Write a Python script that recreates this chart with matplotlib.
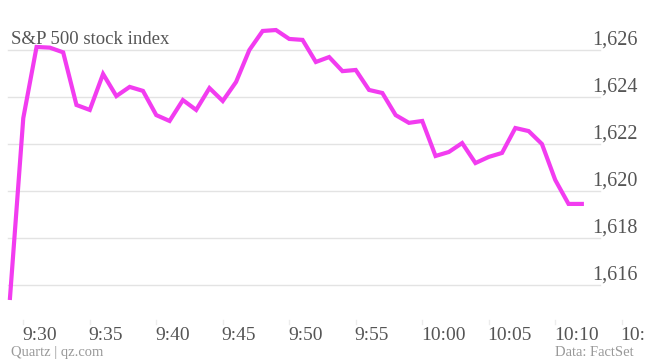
import numpy as np
import matplotlib.pyplot as plt

# minutes after 9:29, one point per minute
minutes = np.arange(44)
price = [1615.45, 1623.1, 1626.13, 1626.1, 1625.9, 1623.66, 1623.45, 1624.98,
         1624.04, 1624.43, 1624.26, 1623.23, 1622.98, 1623.87, 1623.45, 1624.38,
         1623.83, 1624.64, 1626.0, 1626.81, 1626.85, 1626.47, 1626.43, 1625.49,
         1625.7, 1625.1, 1625.15, 1624.3, 1624.17, 1623.23, 1622.9, 1622.98,
         1621.49, 1621.66, 1622.04, 1621.19, 1621.45, 1621.62, 1622.68, 1622.55,
         1622.0, 1620.47, 1619.45, 1619.45]

y_ticks = [1616, 1618, 1620, 1622, 1624, 1626]
x_ticks = [1, 6, 11, 16, 21, 26, 31, 36, 41, 46]
x_labels = ['9:30', '9:35', '9:40', '9:45', '9:50', '9:55', '10:00', '10:05', '10:10', '10:15']

font = 'Liberation Serif'
txt = '#555555'

fig = plt.figure(figsize=(6.45, 3.63), dpi=100)
ax = fig.add_axes([0.0, 0.0, 1.0, 1.0])
# axis limits chosen so that pixels line up with the reference
x0, x1 = -0.75, 47.75
ax.set_xlim(x0, x1)
ax.set_ylim(1626 - 313 / 23.5, 1626 + 50 / 23.5)

grid_end = (44.4 - x0) / (x1 - x0)
for v in y_ticks:
    ax.axhline(v, xmin=0.012, xmax=grid_end, color='#e3e3e3', lw=1, zorder=1)
    ax.text(0.988, v + 0.02, '{:,}'.format(v), transform=ax.get_yaxis_transform(),
            ha='right', va='bottom', fontsize=14.5, family=font, color=txt)

ax.plot(minutes, price, color='#f23cf0', lw=3, solid_joinstyle='miter', zorder=3)

# faint tick marks and left-aligned time labels
ybot = 1626 - 270 / 23.5
for xt, lab in zip(x_ticks, x_labels):
    ax.plot([xt, xt], [ybot, ybot - 0.15], color='#ececec', lw=1)
    ax.text(xt - 0.1, 1626 - 294 / 23.5, lab, ha='left', va='bottom',
            fontsize=14, family=font, color=txt)

ax.axis('off')

fig.text(0.017, 0.868, 'S&P 500 stock index', fontsize=13.5, family=font, color=txt,
         ha='left', va='bottom')
fig.text(0.017, 0.01, 'Quartz | qz.com', fontsize=10.5, family=font, color='#999999',
         ha='left', va='bottom')
fig.text(0.983, 0.01, 'Data: FactSet', fontsize=10.5, family=font, color='#999999',
         ha='right', va='bottom')

fig.savefig('out.png', dpi=100)
